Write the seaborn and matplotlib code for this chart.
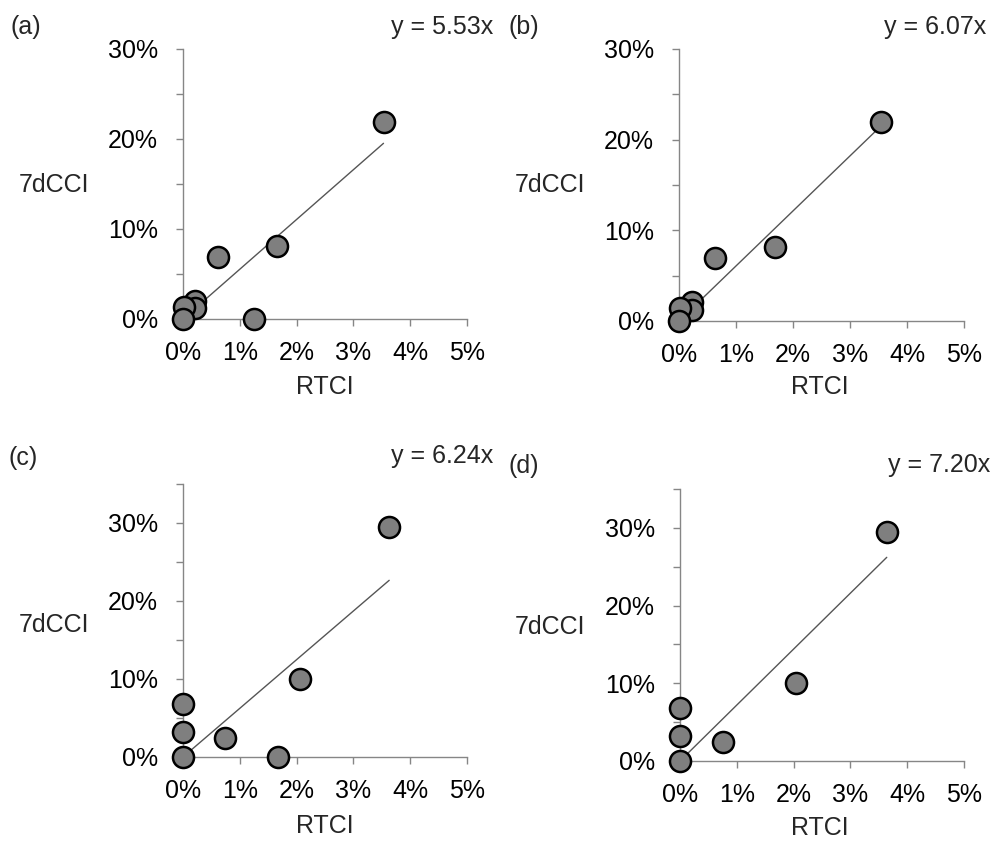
import matplotlib
matplotlib.use("Agg")
import matplotlib.pyplot as plt
import seaborn as sns
import pandas as pd

sns.set_style("white")
plt.rcParams['font.family'] = ['Liberation Sans', 'DejaVu Sans']

# ---- data (values in %) ----
rtci_a = [3.53, 1.66, 0.62, 1.25, 0.22, 0.22, 0.02, 0.0]
cci_a = [21.9, 8.1, 6.85, 0.0, 1.96, 1.2, 1.33, 0.0]
rtci_b = [3.54, 1.69, 0.64, 0.23, 0.22, 0.01, 0.0]
cci_b = [21.9, 8.15, 6.95, 2.05, 1.2, 1.4, 0.0]
rtci_c = [3.63, 2.06, 0.74, 1.67, 0.0, 0.0, 0.0]
cci_c = [29.5, 10.05, 2.45, 0.0, 6.8, 3.2, 0.0]
rtci_d = [3.64, 2.05, 0.75, 0.0, 0.0, 0.0]
cci_d = [29.5, 10.1, 2.4, 6.85, 3.25, 0.0]

panel_labels = ["(a)", "(b)", "(c)", "(d)"]
slopes = [5.53, 6.07, 6.24, 7.20]
ymaxes = [30, 30, 35, 35]
x_ticks = [0, 1, 2, 3, 4, 5]

W, H = 993, 841
fig = plt.figure(figsize=(W / 100, H / 100), dpi=100)

# axes boxes in pixels: left, right, top, bottom
boxes = [(183, 467, 49, 319), (679, 964, 49, 321),
         (183, 467, 484, 757), (680, 964, 489, 761)]
# text anchors in pixels
txt = [
    dict(lab=(10, 27), eq=(493, 27), yl=(19, 185), xl=(325, 387)),
    dict(lab=(508, 27), eq=(986, 27), yl=(515, 185), xl=(820, 387)),
    dict(lab=(8, 458), eq=(493, 456), yl=(19, 625), xl=(325, 826)),
    dict(lab=(508, 466), eq=(990, 465), yl=(515, 627), xl=(820, 828)),
]

datasets = [(rtci_a, cci_a), (rtci_b, cci_b), (rtci_c, cci_c), (rtci_d, cci_d)]
grey = "#868686"
fs = 18

for i, ((xs, ys), (l, r, t, b)) in enumerate(zip(datasets, boxes)):
    ax = fig.add_axes([l / W, 1 - b / H, (r - l) / W, (b - t) / H])
    df = pd.DataFrame({"RTCI": xs, "7dCCI": ys})
    xmax = max(xs)
    ax.plot([0, xmax], [0, slopes[i] * xmax], color="#555555", lw=1.0, zorder=2)
    sns.scatterplot(data=df, x="RTCI", y="7dCCI", ax=ax, s=230, color="#7f7f7f",
                    edgecolor="black", linewidth=1.8, clip_on=False, zorder=3,
                    legend=False)
    ax.set_xlim(0, 5)
    ax.set_ylim(0, ymaxes[i])
    ax.set_xticks(x_ticks)
    ax.set_xticklabels([f"{v}%" for v in x_ticks])
    yt = list(range(0, ymaxes[i] + 1, 5))
    ax.set_yticks(yt)
    ax.set_yticklabels([f"{v}%" if v % 10 == 0 else "" for v in yt])
    ax.set_xlabel("")
    ax.set_ylabel("")
    for s in ["top", "right"]:
        ax.spines[s].set_visible(False)
    for s in ["left", "bottom"]:
        ax.spines[s].set_color(grey)
        ax.spines[s].set_linewidth(1.0)
        ax.spines[s].set_zorder(1)
    ax.tick_params(axis="both", direction="out", length=5, width=1.0,
                   color=grey, labelsize=fs, labelcolor="black",
                   left=True, bottom=True)
    ax.tick_params(axis="y", pad=13)
    ax.tick_params(axis="x", pad=11)
    ax.patch.set_visible(False)

    tp = txt[i]
    fig.text(tp["lab"][0] / W, 1 - tp["lab"][1] / H, panel_labels[i],
             ha="left", va="center", fontsize=fs)
    fig.text(tp["eq"][0] / W, 1 - tp["eq"][1] / H, f"y = {slopes[i]:.2f}x",
             ha="right", va="center", fontsize=fs)
    fig.text(tp["yl"][0] / W, 1 - tp["yl"][1] / H, "7dCCI",
             ha="left", va="center", fontsize=fs)
    fig.text(tp["xl"][0] / W, 1 - tp["xl"][1] / H, "RTCI",
             ha="center", va="center", fontsize=fs)

fig.savefig("out.png", dpi=100, facecolor="white")
